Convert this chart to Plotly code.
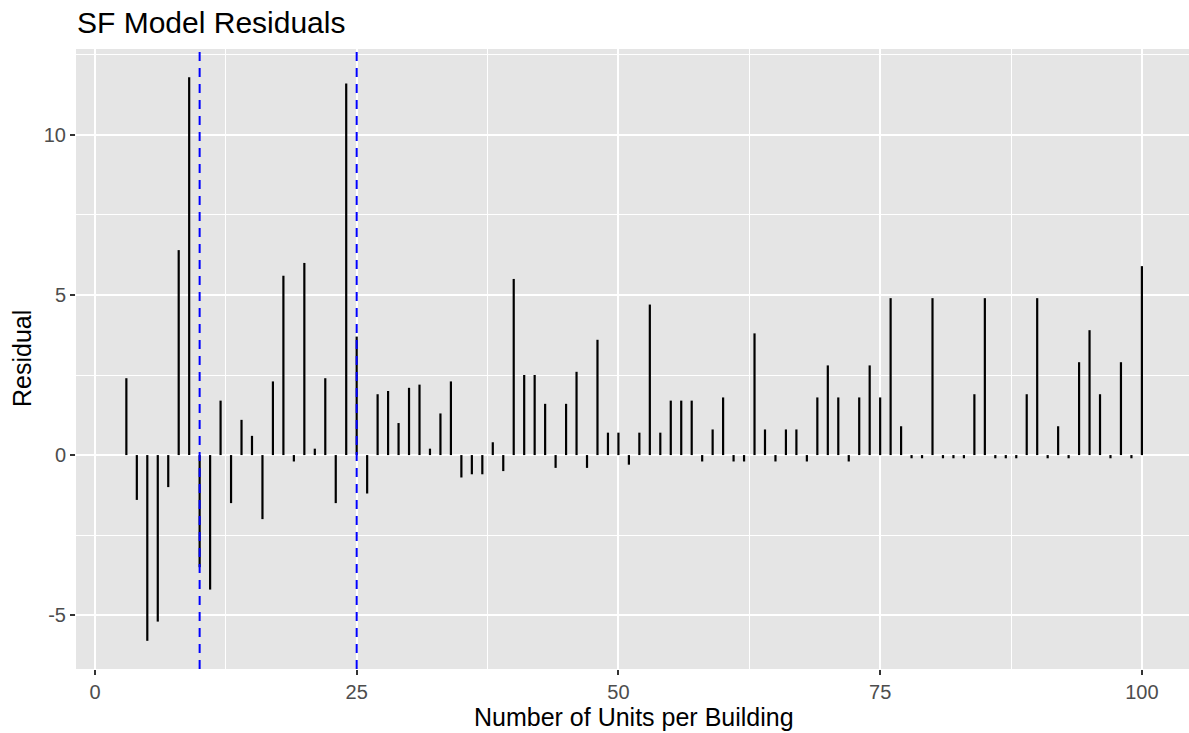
import plotly.graph_objects as go

units = list(range(3, 101))
residuals = [
    2.4, -1.4, -5.8, -5.2, -1.0, 6.4, 11.8, -3.5, -4.2, 1.7,   # 3-12
    -1.5, 1.1, 0.6, -2.0, 2.3, 5.6, -0.2, 6.0, 0.2, 2.4,        # 13-22
    -1.5, 11.6, 3.7, -1.2, 1.9, 2.0, 1.0, 2.1, 2.2, 0.2,        # 23-32
    1.3, 2.3, -0.7, -0.6, -0.6, 0.4, -0.5, 5.5, 2.5, 2.5,       # 33-42
    1.6, -0.4, 1.6, 2.6, -0.4, 3.6, 0.7, 0.7, -0.3, 0.7,        # 43-52
    4.7, 0.7, 1.7, 1.7, 1.7, -0.2, 0.8, 1.8, -0.2, -0.2,        # 53-62
    3.8, 0.8, -0.2, 0.8, 0.8, -0.2, 1.8, 2.8, 1.8, -0.2,        # 63-72
    1.8, 2.8, 1.8, 4.9, 0.9, -0.1, -0.1, 4.9, -0.1, -0.1,       # 73-82
    -0.1, 1.9, 4.9, -0.1, -0.1, -0.1, 1.9, 4.9, -0.1, 0.9,      # 83-92
    -0.1, 2.9, 3.9, 1.9, -0.1, 2.9, -0.1, 5.9,                  # 93-100
]
cutoffs = [10, 25]
x_ticks = [0, 25, 50, 75, 100]
y_ticks = [-5, 0, 5, 10]

seg_x, seg_y = [], []
for u, r in zip(units, residuals):
    seg_x += [u, u, None]
    seg_y += [0, r, None]

FONT = "Liberation Sans, Arial, Helvetica, sans-serif"
W, H = 1189, 733
ML, MR, MT, MB = 76, 0, 49, 64
PW, PH = W - ML - MR, H - MT - MB

fig = go.Figure()
fig.add_trace(go.Scatter(
    x=seg_x, y=seg_y, mode="lines",
    line=dict(color="black", width=2.2),
    hoverinfo="skip", showlegend=False,
))
for c in cutoffs:
    fig.add_vline(x=c, line=dict(color="blue", width=2, dash="9px,7px"), layer="above")

fig.update_layout(
    width=W, height=H,
    margin=dict(l=ML, r=MR, t=MT, b=MB, autoexpand=False),
    paper_bgcolor="white", plot_bgcolor="#e5e5e5",
    font=dict(family=FONT, color="#4d4d4d"),
    showlegend=False,
    title=dict(
        text="SF Model Residuals", font=dict(size=30, color="black", family=FONT),
        x=77 / W, xref="container", xanchor="left",
        y=1 - 22 / H, yref="container", yanchor="middle",
    ),
    annotations=[
        dict(text="Number of Units per Building", xref="paper", yref="paper",
             x=(634 - ML) / PW, y=(H - MB - 717) / PH, xanchor="center", yanchor="middle",
             showarrow=False, font=dict(size=25, color="black", family=FONT)),
        dict(text="Residual", xref="paper", yref="paper", textangle=-90,
             x=(22 - ML) / PW, y=(H - MB - 359) / PH, xanchor="center", yanchor="middle",
             showarrow=False, font=dict(size=25, color="black", family=FONT)),
    ],
)
fig.update_xaxes(
    range=[-1.81, 104.5], tickvals=x_ticks, ticktext=[str(v) for v in x_ticks],
    showgrid=True, gridcolor="white", gridwidth=2,
    minor=dict(tickvals=[12.5, 37.5, 62.5, 87.5], showgrid=True, gridcolor="white", gridwidth=1),
    zeroline=False, showline=False, automargin=False,
    ticks="outside", ticklen=5, tickwidth=1.5, tickcolor="#333333",
    tickfont=dict(size=20, color="#4d4d4d"),
)
fig.update_yaxes(
    range=[-6.68, 12.68], tickvals=y_ticks, ticktext=[str(v) for v in y_ticks],
    showgrid=True, gridcolor="white", gridwidth=2,
    minor=dict(tickvals=[-2.5, 2.5, 7.5, 12.5], showgrid=True, gridcolor="white", gridwidth=1),
    zeroline=False, showline=False, automargin=False,
    ticks="outside", ticklen=5, tickwidth=1.5, tickcolor="#333333",
    tickfont=dict(size=20, color="#4d4d4d"),
)

fig.write_html(
    "out.html",
    config={"displayModeBar": False},
    post_script="document.body.style.margin='0';document.body.style.overflow='hidden';",
)
